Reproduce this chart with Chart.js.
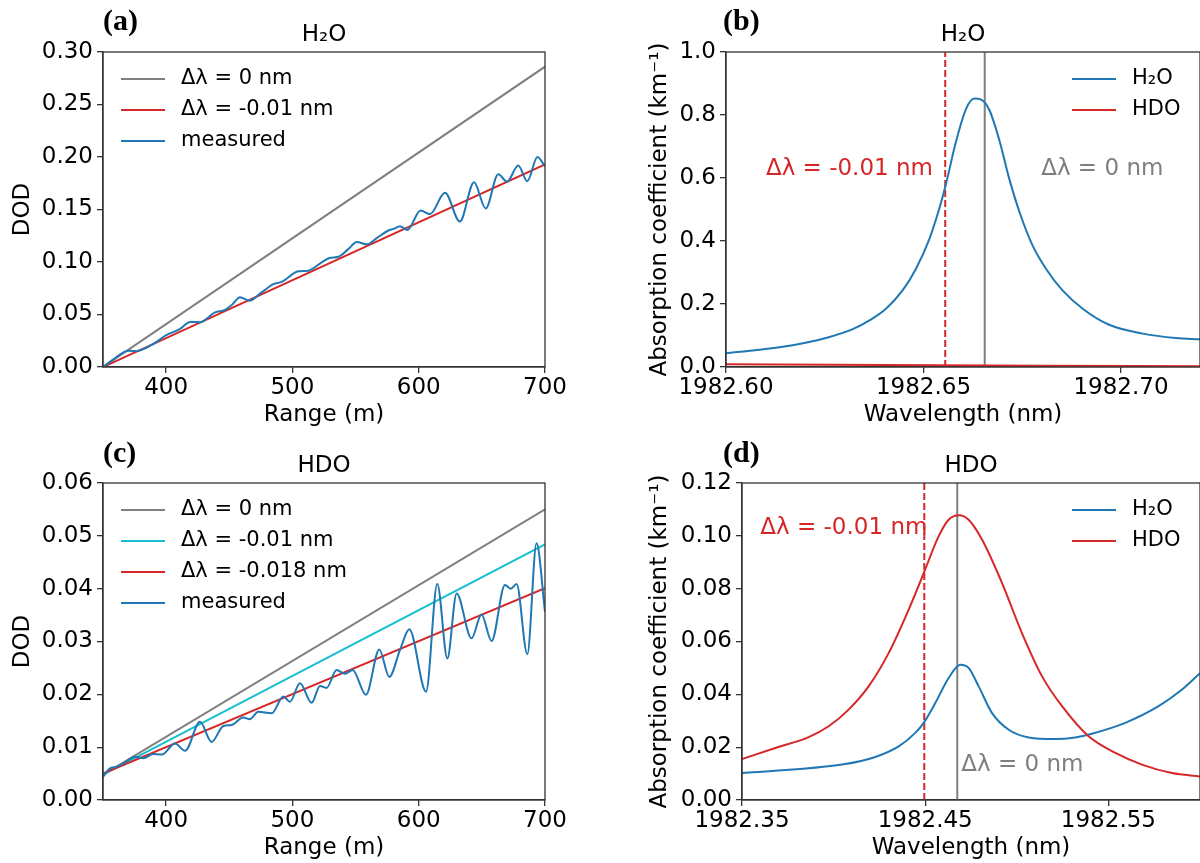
<!DOCTYPE html>
<html>
<head>
<meta charset="utf-8">
<script src="https://cdn.jsdelivr.net/npm/chart.js@4.4.0/dist/chart.umd.min.js"></script>
<style>
  html, body { margin: 0; padding: 0; background: #fff; }
  #page { position: relative; width: 1200px; height: 863px; overflow: hidden; }
  .panel { position: absolute; }
</style>
</head>
<body>
<div id="page">
  <div class="panel" style="left:0;top:0;width:600px;height:430px"><canvas id="chartA"></canvas></div>
  <div class="panel" style="left:600px;top:0;width:600px;height:430px"><canvas id="chartB"></canvas></div>
  <div class="panel" style="left:0;top:430px;width:600px;height:433px"><canvas id="chartC"></canvas></div>
  <div class="panel" style="left:600px;top:430px;width:600px;height:433px"><canvas id="chartD"></canvas></div>
</div>
<script>
// ---- data ----

// (a) H2O differential optical depth vs range
const rangeTicks = [400, 500, 600, 700];
const dodTicksA = [0, 0.05, 0.10, 0.15, 0.20, 0.25, 0.30];
const measuredRangeA = [350, 358, 367.4, 371, 376.6, 388.5, 400.4, 411, 419, 426.8,
  438.7, 446.6, 452, 458.5, 465.8, 475.6, 484.9, 491.5, 504.7, 512.6,
  523.2, 530, 536.5, 544, 551, 559, 567, 576, 580, 585.2,
  591, 601.5, 609, 620.8, 632.6, 643.8, 653, 663, 670, 678.8,
  686, 694, 700];
const measuredDodA = [0, 0.007, 0.0146, 0.0155, 0.0152, 0.021, 0.0305, 0.0362, 0.0429, 0.0426,
  0.052, 0.0543, 0.059, 0.0664, 0.0632, 0.0711, 0.079, 0.081, 0.0911, 0.0917,
  0.0997, 0.104, 0.105, 0.112, 0.119, 0.1168, 0.123, 0.130, 0.1315, 0.134,
  0.1305, 0.149, 0.1457, 0.166, 0.1386, 0.176, 0.151, 0.1835, 0.1765, 0.192,
  0.177, 0.200, 0.191];
const fitRange = [350, 700];
const shift0A = [0, 0.286];
const shift001A = [0, 0.193];

// (b) absorption coefficient around the H2O line
const wlTicksB = [1982.60, 1982.65, 1982.70];
const absTicksB = [0, 0.2, 0.4, 0.6, 0.8, 1.0];
const wlH2oB = [1982.6000, 1982.6084, 1982.6169, 1982.6253, 1982.6321, 1982.6363, 1982.6405,
  1982.6447, 1982.6481, 1982.6515, 1982.6540, 1982.6557, 1982.6582, 1982.6608, 1982.6629,
  1982.6646, 1982.6667, 1982.6692, 1982.6717, 1982.6743, 1982.6776, 1982.6810, 1982.6852,
  1982.6903, 1982.6970, 1982.7055, 1982.7139, 1982.7200];
const h2oB = [0.044, 0.055, 0.069, 0.092, 0.120, 0.148, 0.185,
  0.243, 0.312, 0.407, 0.503, 0.582, 0.714, 0.820, 0.852,
  0.849, 0.815, 0.720, 0.598, 0.492, 0.386, 0.312, 0.243,
  0.185, 0.134, 0.106, 0.092, 0.088];
const wlHdoB = [1982.60, 1982.64, 1982.68, 1982.72];
const hdoB = [0.0085, 0.006, 0.004, 0.0025];
const lineZeroB = 1982.6655;
const lineShiftB = 1982.6555;

// (c) HDO differential optical depth vs range
const dodTicksC = [0, 0.01, 0.02, 0.03, 0.04, 0.05, 0.06];
const measuredRangeC = [350, 355.5, 360.8, 367.4, 375.3, 381.9, 389.8, 396.5, 407, 415,
  426.8, 436, 445.3, 451.9, 461, 466.4, 473, 483.6, 492.8, 498,
  506, 515.2, 521.8, 527, 535, 541.6, 547.7, 558.2, 568.8, 576.7,
  585.2, 592.6, 605.8, 614.7, 622.7, 630, 641.8, 649.7, 657.7, 668.3,
  672.8, 677.5, 686, 693.3, 700];
const measuredDodC = [0.0044, 0.0060, 0.0063, 0.0071, 0.0082, 0.0079, 0.0087, 0.0086, 0.0107, 0.0093,
  0.0148, 0.0110, 0.0140, 0.0142, 0.0156, 0.0153, 0.0167, 0.0164, 0.0196, 0.0186,
  0.0221, 0.0184, 0.0216, 0.0212, 0.0246, 0.0239, 0.0246, 0.0199, 0.0285, 0.0233,
  0.0284, 0.0323, 0.0205, 0.0409, 0.0268, 0.0391, 0.0306, 0.0351, 0.0301, 0.0407,
  0.0400, 0.0409, 0.0276, 0.0486, 0.0356];
const shift0C = [0.0048, 0.055];
const shift001C = [0.0048, 0.0484];
const shift0018C = [0.0050, 0.0401];

// (d) absorption coefficient around the HDO line
const wlTicksD = [1982.35, 1982.45, 1982.55];
const absTicksD = [0, 0.02, 0.04, 0.06, 0.08, 0.10, 0.12];
const wlHdoD = [1982.3500, 1982.3682, 1982.3864, 1982.3973, 1982.4082, 1982.4191, 1982.4301, 1982.4410,
  1982.4492, 1982.4573, 1982.4628, 1982.4683, 1982.4737, 1982.4810, 1982.4919, 1982.5028,
  1982.5138, 1982.5247, 1982.5392, 1982.5538, 1982.5683, 1982.5847, 1982.6000];
const hdoD = [0.0155, 0.0197, 0.0238, 0.0279, 0.0342, 0.0430, 0.0557, 0.0721,
  0.0859, 0.0998, 0.1061, 0.1078, 0.1061, 0.0986, 0.0822, 0.0632,
  0.0468, 0.0355, 0.0241, 0.0178, 0.0134, 0.0102, 0.0089];
const wlH2oD = [1982.3500, 1982.3773, 1982.4046, 1982.4228, 1982.4355, 1982.4446, 1982.4492, 1982.4555,
  1982.4628, 1982.4692, 1982.4737, 1982.4792, 1982.4865, 1982.4956, 1982.5065, 1982.5210,
  1982.5319, 1982.5410, 1982.5592, 1982.5774, 1982.5902, 1982.6000];
const h2oD = [0.0102, 0.0115, 0.0134, 0.0163, 0.0203, 0.0254, 0.0292, 0.0367,
  0.0462, 0.0512, 0.0500, 0.0430, 0.0329, 0.0266, 0.0237, 0.0231,
  0.0237, 0.0251, 0.0292, 0.0355, 0.0418, 0.0480];
const lineZeroD = 1982.4675;
const lineShiftD = 1982.4495;

// ---- styling helpers ----
const FONT = "'DejaVu Sans', sans-serif";
const BLUE = '#1f77b4', RED = '#d62728', GRAY = '#7f7f7f', CYAN = '#17becf';
const AXIS = '#333';

const pts = (xs, ys) => xs.map((x, i) => ({ x: x, y: ys[i] }));

function curve(label, xs, ys, color, order, smooth) {
  return {
    label: label, data: pts(xs, ys), borderColor: color, borderWidth: 2,
    pointRadius: 0, fill: false, order: order,
    cubicInterpolationMode: smooth ? 'monotone' : 'default', tension: 0
  };
}

function vline(x, yTop, color, dashed) {
  return {
    data: [{ x: x, y: 0 }, { x: x, y: yTop }], borderColor: color, borderWidth: 2,
    borderDash: dashed ? [7, 3] : [], pointRadius: 0, fill: false, order: 5
  };
}

function scales(c) {
  return {
    x: {
      type: 'linear', position: 'bottom', min: c.xMin, max: c.xMax,
      afterBuildTicks: s => { s.ticks = c.xTicks.map(v => ({ value: v })); },
      afterFit: s => { s.height = 63; s.paddingLeft = 0; s.paddingRight = 0; },
      grid: { drawOnChartArea: false, drawTicks: true, tickLength: 6, color: AXIS, lineWidth: 1.3 },
      border: { display: true, color: AXIS, width: 1.3 },
      ticks: { font: { family: FONT, size: 23 }, color: '#000', padding: 1, maxRotation: 0, autoSkip: false,
        callback: v => Number(v).toFixed(c.xDigits) },
      title: { display: true, text: c.xTitle, font: { family: FONT, size: 23 }, color: '#000',
        padding: { top: 0, bottom: 1 } }
    },
    y: {
      type: 'linear', position: 'left', min: c.yMin, max: c.yMax,
      afterBuildTicks: s => { s.ticks = c.yTicks.map(v => ({ value: v })); },
      afterFit: s => { s.width = c.yWidth; s.paddingTop = 0; s.paddingBottom = 0; },
      grid: { drawOnChartArea: false, drawTicks: true, tickLength: 6, color: AXIS, lineWidth: 1.3 },
      border: { display: true, color: AXIS, width: 1.3 },
      ticks: { font: { family: FONT, size: 23 }, color: '#000', padding: 4, autoSkip: false,
        callback: v => Number(v).toFixed(c.yDigits) },
      title: { display: true, text: c.yTitle, font: { family: FONT, size: 23 }, color: '#000',
        padding: { top: c.yTitlePad, bottom: 0 } }
    }
  };
}

// frame, panel tag, title, notes and legend drawn on top of the chart
const decor = {
  id: 'decor',
  afterDraw(chart, args, o) {
    const ctx = chart.ctx, a = chart.chartArea;
    ctx.save();
    ctx.strokeStyle = AXIS;
    ctx.lineWidth = 1.3;
    ctx.strokeRect(a.left, a.top, a.right - a.left, a.bottom - a.top);

    ctx.textBaseline = 'middle';
    ctx.textAlign = 'left';
    ctx.fillStyle = '#000';
    ctx.font = "bold 30px 'Liberation Serif', serif";
    ctx.fillText(o.tag, o.tagX, o.tagY);

    ctx.font = '23px ' + FONT;
    ctx.textAlign = 'center';
    ctx.fillText(o.title, (a.left + a.right) / 2, a.top - 17);

    ctx.textAlign = 'left';
    (o.notes || []).forEach(n => {
      ctx.fillStyle = n.color;
      ctx.fillText(n.text, chart.scales.x.getPixelForValue(n.x), chart.scales.y.getPixelForValue(n.y));
    });

    ctx.font = '21px ' + FONT;
    const items = chart.data.datasets.filter(d => d.label);
    const x0 = o.legendSide === 'right' ? a.right - 128 : a.left + 18;
    items.forEach((d, i) => {
      const y = a.top + 27 + 31 * i;
      ctx.strokeStyle = d.borderColor;
      ctx.lineWidth = 2;
      ctx.beginPath();
      ctx.moveTo(x0, y);
      ctx.lineTo(x0 + 44, y);
      ctx.stroke();
      ctx.fillStyle = '#000';
      ctx.fillText(d.label, x0 + 60, y);
    });
    ctx.restore();
  }
};

function makeChart(id, datasets, sc, padding, deco) {
  return new Chart(document.getElementById(id), {
    type: 'line',
    data: { datasets: datasets },
    options: {
      responsive: true, maintainAspectRatio: false, animation: false, devicePixelRatio: 1,
      layout: { padding: padding },
      scales: scales(sc),
      plugins: { legend: { display: false }, tooltip: { enabled: false }, decor: deco }
    },
    plugins: [decor]
  });
}

// (a)
makeChart('chartA', [
  curve('Δλ = 0 nm', fitRange, shift0A, GRAY, 2, false),
  curve('Δλ = -0.01 nm', fitRange, shift001A, RED, 1, false),
  curve('measured', measuredRangeA, measuredDodA, BLUE, 0, true)
], {
  xMin: 350, xMax: 700, xTicks: rangeTicks, xDigits: 0, xTitle: 'Range (m)',
  yMin: 0, yMax: 0.30, yTicks: dodTicksA, yDigits: 2, yTitle: 'DOD', yWidth: 103, yTitlePad: 9
}, { left: 0, top: 52, right: 55, bottom: 0 },
{ tag: '(a)', tagX: 103, tagY: 22, title: 'H₂O', legendSide: 'left' });

// (b)
makeChart('chartB', [
  curve('H₂O', wlH2oB, h2oB, BLUE, 1, true),
  curve('HDO', wlHdoB, hdoB, RED, 2, true),
  vline(lineShiftB, 1.0, RED, true),
  vline(lineZeroB, 1.0, GRAY, false)
], {
  xMin: 1982.60, xMax: 1982.72, xTicks: wlTicksB, xDigits: 2, xTitle: 'Wavelength (nm)',
  yMin: 0, yMax: 1.0, yTicks: absTicksB, yDigits: 1, yTitle: 'Absorption coefficient (km⁻¹)', yWidth: 126, yTitlePad: 46
}, { left: 0, top: 52, right: 0, bottom: 0 },
{ tag: '(b)', tagX: 123, tagY: 22, title: 'H₂O', legendSide: 'right',
  notes: [
    { text: 'Δλ = -0.01 nm', x: 1982.6101, y: 0.629, color: RED },
    { text: 'Δλ = 0 nm', x: 1982.6798, y: 0.629, color: GRAY }
  ] });

// (c)
makeChart('chartC', [
  curve('Δλ = 0 nm', fitRange, shift0C, GRAY, 3, false),
  curve('Δλ = -0.01 nm', fitRange, shift001C, CYAN, 2, false),
  curve('Δλ = -0.018 nm', fitRange, shift0018C, RED, 1, false),
  curve('measured', measuredRangeC, measuredDodC, BLUE, 0, true)
], {
  xMin: 350, xMax: 700, xTicks: rangeTicks, xDigits: 0, xTitle: 'Range (m)',
  yMin: 0, yMax: 0.06, yTicks: dodTicksC, yDigits: 2, yTitle: 'DOD', yWidth: 103, yTitlePad: 9
}, { left: 0, top: 53, right: 55, bottom: 0 },
{ tag: '(c)', tagX: 103, tagY: 24, title: 'HDO', legendSide: 'left' });

// (d)
makeChart('chartD', [
  curve('H₂O', wlH2oD, h2oD, BLUE, 2, true),
  curve('HDO', wlHdoD, hdoD, RED, 1, true),
  vline(lineShiftD, 0.12, RED, true),
  vline(lineZeroD, 0.12, GRAY, false)
], {
  xMin: 1982.35, xMax: 1982.60, xTicks: wlTicksD, xDigits: 2, xTitle: 'Wavelength (nm)',
  yMin: 0, yMax: 0.12, yTicks: absTicksD, yDigits: 2, yTitle: 'Absorption coefficient (km⁻¹)', yWidth: 142, yTitlePad: 46
}, { left: 0, top: 53, right: 0, bottom: 0 },
{ tag: '(d)', tagX: 123, tagY: 24, title: 'HDO', legendSide: 'right',
  notes: [
    { text: 'Δλ = -0.01 nm', x: 1982.3600, y: 0.1030, color: RED },
    { text: 'Δλ = 0 nm', x: 1982.4697, y: 0.0134, color: GRAY }
  ] });
</script>
</body>
</html>
